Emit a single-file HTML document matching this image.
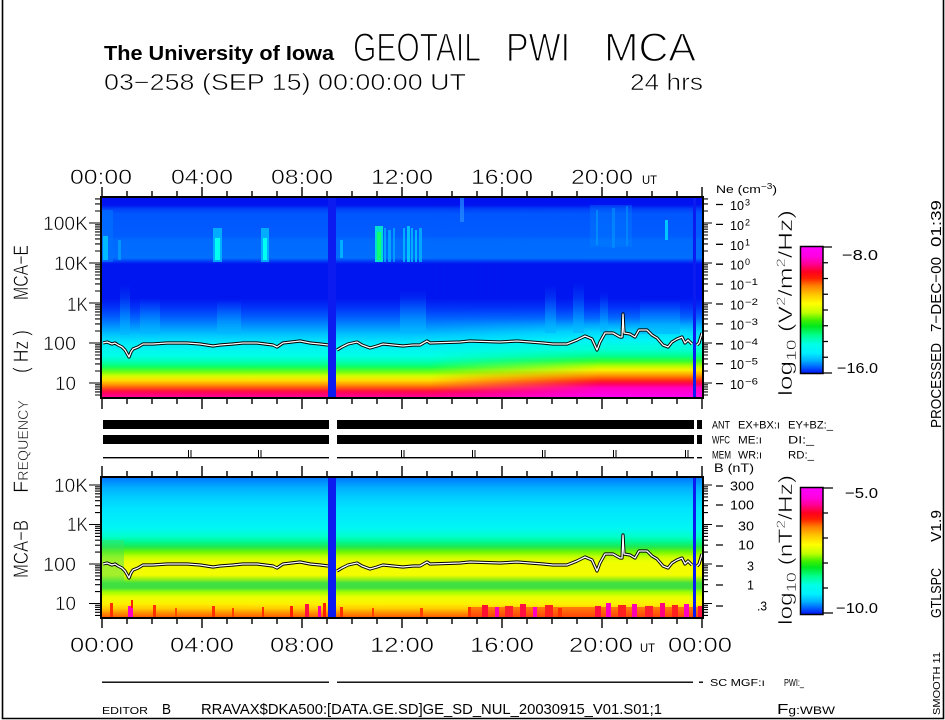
<!DOCTYPE html>
<html><head><meta charset="utf-8"><title>GEOTAIL PWI MCA</title>
<style>html,body{margin:0;padding:0;background:#fff}svg{display:block}</style></head>
<body>
<svg xmlns="http://www.w3.org/2000/svg" width="945" height="720" viewBox="0 0 945 720" font-family="Liberation Sans, sans-serif">
<defs>
<linearGradient id="gTL" gradientUnits="userSpaceOnUse" x1="0" y1="198" x2="0" y2="397">
<stop offset="0" stop-color="#0010f0"/><stop offset=".035" stop-color="#0014f0"/><stop offset=".055" stop-color="#0040f8"/>
<stop offset=".08" stop-color="#0056ff"/><stop offset=".191" stop-color="#005cff"/><stop offset=".211" stop-color="#006aff"/>
<stop offset=".302" stop-color="#006eff"/><stop offset=".322" stop-color="#0030f4"/><stop offset=".332" stop-color="#0016f0"/>
<stop offset=".503" stop-color="#0016f0"/><stop offset=".553" stop-color="#0034f8"/><stop offset=".603" stop-color="#0062ff"/>
<stop offset=".648" stop-color="#0096ff"/><stop offset=".688" stop-color="#00c6ff"/><stop offset=".729" stop-color="#00eafa"/>
<stop offset=".794" stop-color="#00ffe6"/><stop offset=".824" stop-color="#00ffb0"/><stop offset=".849" stop-color="#10ff60"/>
<stop offset=".874" stop-color="#70ff10"/><stop offset=".894" stop-color="#d0ff00"/><stop offset=".915" stop-color="#ffe000"/>
<stop offset=".935" stop-color="#ffa000"/><stop offset=".955" stop-color="#ff5010"/><stop offset=".97" stop-color="#ff1040"/>
<stop offset=".985" stop-color="#ff0070"/><stop offset="1" stop-color="#ff0090"/>
</linearGradient>
<linearGradient id="gTR" gradientUnits="userSpaceOnUse" x1="0" y1="198" x2="0" y2="397">
<stop offset="0" stop-color="#0010f0"/><stop offset=".035" stop-color="#0014f0"/><stop offset=".055" stop-color="#0040f8"/>
<stop offset=".08" stop-color="#0056ff"/><stop offset=".191" stop-color="#005cff"/><stop offset=".211" stop-color="#006aff"/>
<stop offset=".302" stop-color="#006eff"/><stop offset=".322" stop-color="#0030f4"/><stop offset=".332" stop-color="#0016f0"/>
<stop offset=".503" stop-color="#0016f0"/><stop offset=".553" stop-color="#0034f8"/><stop offset=".603" stop-color="#0068ff"/>
<stop offset=".638" stop-color="#00a8ff"/><stop offset=".673" stop-color="#00d8ff"/><stop offset=".714" stop-color="#00f4f8"/>
<stop offset=".764" stop-color="#00ffd0"/><stop offset=".794" stop-color="#00ff90"/><stop offset=".819" stop-color="#30ff30"/>
<stop offset=".844" stop-color="#b0ff00"/><stop offset=".864" stop-color="#f8f000"/><stop offset=".884" stop-color="#ffb000"/>
<stop offset=".905" stop-color="#ff6000"/><stop offset=".92" stop-color="#ff2020"/><stop offset=".935" stop-color="#ff0060"/>
<stop offset=".955" stop-color="#ff00c0"/><stop offset="1" stop-color="#ff00f0"/>
</linearGradient>
<linearGradient id="gB" gradientUnits="userSpaceOnUse" x1="0" y1="478" x2="0" y2="617">
<stop offset="0" stop-color="#0078ff"/><stop offset=".029" stop-color="#0090ff"/><stop offset=".072" stop-color="#00b0ff"/>
<stop offset=".137" stop-color="#00ccff"/><stop offset=".216" stop-color="#00e4ff"/><stop offset=".36" stop-color="#00f6f4"/>
<stop offset=".424" stop-color="#00ffc8"/><stop offset=".46" stop-color="#00f890"/><stop offset=".496" stop-color="#20e850"/>
<stop offset=".532" stop-color="#70f800"/><stop offset=".568" stop-color="#c8ff00"/><stop offset=".604" stop-color="#f0ff00"/>
<stop offset=".698" stop-color="#f4fc00"/><stop offset=".727" stop-color="#a0f010"/><stop offset=".755" stop-color="#40e040"/>
<stop offset=".791" stop-color="#40e040"/><stop offset=".82" stop-color="#a0ff00"/><stop offset=".856" stop-color="#e8ff00"/>
<stop offset=".906" stop-color="#fff000"/><stop offset=".942" stop-color="#ffc800"/><stop offset=".971" stop-color="#ff9000"/>
<stop offset="1" stop-color="#ff6000"/>
</linearGradient>
<linearGradient id="cb" x1="0" y1="0" x2="0" y2="1">
<stop offset="0" stop-color="#ff00ff"/><stop offset=".08" stop-color="#ff00e0"/><stop offset=".14" stop-color="#ff0090"/>
<stop offset=".2" stop-color="#ff0020"/><stop offset=".25" stop-color="#ff2000"/><stop offset=".31" stop-color="#ff8000"/>
<stop offset=".38" stop-color="#ffc800"/><stop offset=".45" stop-color="#ffff00"/><stop offset=".52" stop-color="#c0ff00"/>
<stop offset=".58" stop-color="#40f000"/><stop offset=".63" stop-color="#00e820"/><stop offset=".7" stop-color="#00ff90"/>
<stop offset=".77" stop-color="#00ffe8"/><stop offset=".84" stop-color="#00f0ff"/><stop offset=".9" stop-color="#00b0ff"/>
<stop offset=".96" stop-color="#0050ff"/><stop offset="1" stop-color="#0010f0"/>
</linearGradient>
<linearGradient id="fadeR" gradientUnits="userSpaceOnUse" x1="430" y1="0" x2="600" y2="0">
<stop offset="0" stop-color="#fff" stop-opacity="0"/><stop offset="1" stop-color="#fff" stop-opacity="1"/>
</linearGradient>
<mask id="mR"><rect x="102" y="198" width="600" height="199" fill="url(#fadeR)"/></mask>
<linearGradient id="st" x1="0" y1="0" x2="0" y2="1">
<stop offset="0" stop-color="#00a0ff" stop-opacity="0"/><stop offset="1" stop-color="#00b8ff" stop-opacity=".7"/>
</linearGradient>
<clipPath id="cT"><rect x="102" y="198" width="600" height="199"/></clipPath>
<clipPath id="cB"><rect x="102" y="478" width="600" height="139"/></clipPath>
</defs>

<rect width="945" height="720" fill="#fff"/>
<path d="M2.5 0V718.5H943.5V0" fill="none" stroke="#000" stroke-width="1.6"/>

<!-- Title -->
<text x="104" y="60" font-size="20" font-weight="bold" textLength="230" lengthAdjust="spacingAndGlyphs">The University of Iowa</text>
<g font-size="40" stroke="#fff" stroke-width="1.3">
<text x="353" y="61" textLength="128" lengthAdjust="spacingAndGlyphs">GEOTAIL</text>
<text x="506" y="61" textLength="64" lengthAdjust="spacingAndGlyphs">PWI</text>
<text x="604" y="61" textLength="92" lengthAdjust="spacingAndGlyphs">MCA</text>
</g>
<g font-size="23" stroke="#fff" stroke-width="0.6">
<text x="104" y="90" textLength="362" lengthAdjust="spacingAndGlyphs">03−258 (SEP 15) 00:00:00 UT</text>
<text x="630" y="90" textLength="73" lengthAdjust="spacingAndGlyphs">24 hrs</text>
</g>

<!-- Top time labels -->
<g font-size="21" text-anchor="middle" stroke="#fff" stroke-width="0.5">
<text x="101" y="184" textLength="62" lengthAdjust="spacingAndGlyphs">00:00</text>
<text x="202" y="184" textLength="62" lengthAdjust="spacingAndGlyphs">04:00</text>
<text x="302" y="184" textLength="62" lengthAdjust="spacingAndGlyphs">08:00</text>
<text x="402" y="184" textLength="62" lengthAdjust="spacingAndGlyphs">12:00</text>
<text x="502" y="184" textLength="62" lengthAdjust="spacingAndGlyphs">16:00</text>
<text x="602" y="184" textLength="62" lengthAdjust="spacingAndGlyphs">20:00</text>
</g>
<text x="642" y="184" font-size="12" textLength="15" lengthAdjust="spacingAndGlyphs">UT</text>

<!-- TOP PANEL -->
<g clip-path="url(#cT)">
<rect x="102" y="198" width="600" height="199" fill="url(#gTL)"/>
<rect x="102" y="198" width="600" height="199" fill="url(#gTR)" mask="url(#mR)"/>
<rect x="102" y="210" width="11" height="52" fill="#0070ff" opacity=".7"/>
<rect x="103" y="236" width="5" height="24" fill="#00c8ff" opacity=".85"/>
<rect x="118" y="240" width="3" height="20" fill="#00a0ff" opacity=".8"/>
<rect x="213" y="228" width="9" height="34" fill="#00c0ff" opacity=".8"/>
<rect x="215" y="238" width="5" height="22" fill="#00fff0"/>
<rect x="261" y="228" width="8" height="34" fill="#00c0ff" opacity=".8"/>
<rect x="263" y="238" width="4" height="22" fill="#00fff0"/>
<rect x="340" y="240" width="3" height="18" fill="#00c0ff" opacity=".8"/>
<rect x="375" y="226" width="8" height="36" fill="#00e0d0"/>
<rect x="377" y="232" width="4" height="28" fill="#10ff70"/>
<rect x="384" y="228" width="2" height="34" fill="#00b0ff" opacity=".8"/>
<rect x="388" y="230" width="3" height="32" fill="#00c0ff" opacity=".7"/>
<rect x="393" y="228" width="2" height="34" fill="#00b0ff" opacity=".7"/>
<rect x="403" y="228" width="2" height="34" fill="#00c0ff" opacity=".8"/>
<rect x="407" y="226" width="3" height="36" fill="#00d8ff" opacity=".8"/>
<rect x="411" y="228" width="2" height="34" fill="#00c0ff" opacity=".8"/>
<rect x="415" y="230" width="2" height="32" fill="#00d0ff" opacity=".8"/>
<rect x="419" y="228" width="3" height="34" fill="#00b8ff" opacity=".8"/>
<rect x="460" y="198" width="4" height="24" fill="#2890ff" opacity=".7"/>
<rect x="590" y="205" width="42" height="42" fill="#0088ff" opacity=".3"/>
<rect x="596" y="210" width="2" height="35" fill="#00a0ff" opacity=".6"/>
<rect x="612" y="208" width="3" height="40" fill="#00a0ff" opacity=".5"/>
<rect x="626" y="206" width="2" height="40" fill="#00a0ff" opacity=".5"/>
<rect x="665" y="220" width="3" height="20" fill="#00d8ff" opacity=".85"/>
<rect x="120" y="285" width="10" height="50" fill="url(#st)"/>
<rect x="140" y="298" width="20" height="36" fill="url(#st)"/>
<rect x="217" y="300" width="24" height="34" fill="url(#st)"/>
<rect x="400" y="290" width="26" height="44" fill="url(#st)"/>
<rect x="545" y="285" width="11" height="48" fill="url(#st)"/>
<rect x="573" y="283" width="11" height="50" fill="url(#st)"/>
<rect x="640" y="300" width="40" height="34" fill="url(#st)"/>
<rect x="600" y="292" width="8" height="40" fill="url(#st)"/>
<rect x="328" y="198" width="8" height="199" fill="#0c1cf0"/>
<rect x="693" y="198" width="3" height="199" fill="#0c1cf0"/>
<g fill="none" stroke-linejoin="round">
<g stroke="#000" stroke-width="3.2">
<polyline points="103,343 107,342 112,344 115,343 118,345 122,347 125,350 129,357 131,352 133,349 138,347 143,344 153,344 167,343 177,343 187,343 200,344 213,346 220,345 233,344 243,343 257,343 273,345 277,347 283,343 300,341 310,343 320,344 328,345"/>
<polyline points="337,350 342,347 348,344 357,342 362,345 370,348 377,346 383,344 393,345 403,346 413,345 420,345 427,341 430,343 460,342 470,341 500,342 517,341 543,343 553,344 567,344 577,340 585,336 592,339 597,350 600,342 605,333 613,333 620,337 622,337 623,314 624,333 630,334 635,337 639,330 647,330 652,335 657,338 663,345 668,347 672,342 677,339 682,337 685,343 688,340 692,344"/>
<polyline points="697,345 699,343 702,333"/>
</g>
<g stroke="#fff" stroke-width="1.3">
<polyline points="103,343 107,342 112,344 115,343 118,345 122,347 125,350 129,357 131,352 133,349 138,347 143,344 153,344 167,343 177,343 187,343 200,344 213,346 220,345 233,344 243,343 257,343 273,345 277,347 283,343 300,341 310,343 320,344 328,345"/>
<polyline points="337,350 342,347 348,344 357,342 362,345 370,348 377,346 383,344 393,345 403,346 413,345 420,345 427,341 430,343 460,342 470,341 500,342 517,341 543,343 553,344 567,344 577,340 585,336 592,339 597,350 600,342 605,333 613,333 620,337 622,337 623,314 624,333 630,334 635,337 639,330 647,330 652,335 657,338 663,345 668,347 672,342 677,339 682,337 685,343 688,340 692,344"/>
<polyline points="697,345 699,343 702,333"/>
</g>
</g>
</g>
<rect x="101" y="197" width="602" height="201" fill="none" stroke="#000" stroke-width="2"/>

<!-- BOTTOM PANEL -->
<g clip-path="url(#cB)">
<rect x="102" y="478" width="600" height="139" fill="url(#gB)"/>
<rect x="102" y="540" width="22" height="42" fill="#40e060" opacity=".45"/>
<rect x="470" y="607" width="232" height="10" fill="#ff3010" opacity=".55"/>
<g>
<rect x="110" y="603" width="3" height="14" fill="#ff3000"/>
<rect x="128" y="606" width="5" height="11" fill="#ff00c0"/>
<rect x="131" y="600" width="2" height="8" fill="#ff2000"/>
<rect x="153" y="605" width="3" height="12" fill="#ff3000"/>
<rect x="175" y="608" width="2" height="9" fill="#ff5000"/>
<rect x="212" y="606" width="3" height="11" fill="#ff3000"/>
<rect x="232" y="608" width="2" height="9" fill="#ff4000"/>
<rect x="262" y="607" width="2" height="10" fill="#ff3000"/>
<rect x="290" y="606" width="3" height="11" fill="#ff2000"/>
<rect x="305" y="604" width="4" height="13" fill="#ff1040"/>
<rect x="318" y="606" width="3" height="11" fill="#ff00a0"/>
<rect x="323" y="603" width="3" height="14" fill="#ff2000"/>
<rect x="340" y="607" width="3" height="10" fill="#ff3000"/>
<rect x="372" y="608" width="2" height="9" fill="#ff4000"/>
<rect x="420" y="608" width="3" height="9" fill="#ff4000"/>
<rect x="468" y="607" width="3" height="10" fill="#ff3000"/>
<rect x="482" y="605" width="6" height="12" fill="#ff1030"/>
<rect x="495" y="607" width="4" height="10" fill="#ff00b0"/>
<rect x="505" y="606" width="8" height="11" fill="#ff2030"/>
<rect x="520" y="604" width="6" height="13" fill="#ff1040"/>
<rect x="533" y="607" width="4" height="10" fill="#ff00c0"/>
<rect x="545" y="605" width="8" height="12" fill="#ff2020"/>
<rect x="558" y="608" width="4" height="9" fill="#ff3000"/>
<rect x="595" y="606" width="6" height="11" fill="#ff1040"/>
<rect x="606" y="603" width="5" height="14" fill="#ff00c0"/>
<rect x="618" y="605" width="8" height="12" fill="#ff2020"/>
<rect x="632" y="604" width="5" height="13" fill="#ff00b0"/>
<rect x="645" y="606" width="8" height="11" fill="#ff2030"/>
<rect x="660" y="603" width="5" height="14" fill="#ff0080"/>
<rect x="672" y="605" width="6" height="12" fill="#ff2020"/>
<rect x="684" y="604" width="5" height="13" fill="#ff00c0"/>
<rect x="698" y="606" width="4" height="11" fill="#ff1040"/>
</g>
<rect x="328" y="478" width="8" height="139" fill="#0c1cf0"/>
<rect x="693" y="478" width="3" height="139" fill="#0c1cf0"/>
<g fill="none" stroke-linejoin="round" transform="translate(0,221)">
<g stroke="#000" stroke-width="3.2">
<polyline points="103,343 107,342 112,344 115,343 118,345 122,347 125,350 129,357 131,352 133,349 138,347 143,344 153,344 167,343 177,343 187,343 200,344 213,346 220,345 233,344 243,343 257,343 273,345 277,347 283,343 300,341 310,343 320,344 328,345"/>
<polyline points="337,350 342,347 348,344 357,342 362,345 370,348 377,346 383,344 393,345 403,346 413,345 420,345 427,341 430,343 460,342 470,341 500,342 517,341 543,343 553,344 567,344 577,340 585,336 592,339 597,350 600,342 605,333 613,333 620,337 622,337 623,314 624,333 630,334 635,337 639,330 647,330 652,335 657,338 663,345 668,347 672,342 677,339 682,337 685,343 688,340 692,344"/>
<polyline points="697,345 699,343 702,333"/>
</g>
<g stroke="#fff" stroke-width="1.3">
<polyline points="103,343 107,342 112,344 115,343 118,345 122,347 125,350 129,357 131,352 133,349 138,347 143,344 153,344 167,343 177,343 187,343 200,344 213,346 220,345 233,344 243,343 257,343 273,345 277,347 283,343 300,341 310,343 320,344 328,345"/>
<polyline points="337,350 342,347 348,344 357,342 362,345 370,348 377,346 383,344 393,345 403,346 413,345 420,345 427,341 430,343 460,342 470,341 500,342 517,341 543,343 553,344 567,344 577,340 585,336 592,339 597,350 600,342 605,333 613,333 620,337 622,337 623,314 624,333 630,334 635,337 639,330 647,330 652,335 657,338 663,345 668,347 672,342 677,339 682,337 685,343 688,340 692,344"/>
<polyline points="697,345 699,343 702,333"/>
</g>
</g>
</g>
<rect x="101" y="477" width="602" height="141" fill="none" stroke="#000" stroke-width="2"/>

<!-- time ticks -->
<g stroke="#000" stroke-width="1.4" fill="none">
<path d="M102 187V197M202 187V197M302 187V197M402 187V197M502 187V197M602 187V197M702 187V197"/>
<path d="M127 191V197M152 191V197M177 191V197M227 191V197M252 191V197M277 191V197M327 191V197M352 191V197M377 191V197M427 191V197M452 191V197M477 191V197M527 191V197M552 191V197M577 191V197M627 191V197M652 191V197M677 191V197"/>
<path d="M102 398V409M202 398V409M302 398V409M402 398V409M502 398V409M602 398V409M702 398V409"/>
<path d="M127 398V404M152 398V404M177 398V404M227 398V404M252 398V404M277 398V404M327 398V404M352 398V404M377 398V404M427 398V404M452 398V404M477 398V404M527 398V404M552 398V404M577 398V404M627 398V404M652 398V404M677 398V404"/>
<path d="M102 466V477M202 466V477M302 466V477M402 466V477M502 466V477M602 466V477M702 466V477"/>
<path d="M127 471V477M152 471V477M177 471V477M227 471V477M252 471V477M277 471V477M327 471V477M352 471V477M377 471V477M427 471V477M452 471V477M477 471V477M527 471V477M552 471V477M577 471V477M627 471V477M652 471V477M677 471V477"/>
<path d="M102 618V628M202 618V628M302 618V628M402 618V628M502 618V628M602 618V628M702 618V628"/>
<path d="M127 618V624M152 618V624M177 618V624M227 618V624M252 618V624M277 618V624M327 618V624M352 618V624M377 618V624M427 618V624M452 618V624M477 618V624M527 618V624M552 618V624M577 618V624M627 618V624M652 618V624M677 618V624"/>
</g>
<!-- frequency ticks -->
<g stroke="#000" stroke-width="1.1" fill="none">
<path d="M89 383H101M89 343H101M89 303H101M89 263H101M89 223H101M703 383H712M703 343H712M703 303H712M703 263H712M703 223H712"/>
<path d="M95 395H101M95 391.9H101M95 389.2H101M95 386.9H101M95 384.8H101M95 371H101M95 363.9H101M95 358.9H101M95 355H101M95 351.9H101M95 349.2H101M95 346.9H101M95 344.8H101M95 331H101M95 323.9H101M95 318.9H101M95 315H101M95 311.9H101M95 309.2H101M95 306.9H101M95 304.8H101M95 291H101M95 283.9H101M95 278.9H101M95 275H101M95 271.9H101M95 269.2H101M95 266.9H101M95 264.8H101M95 251H101M95 243.9H101M95 238.9H101M95 235H101M95 231.9H101M95 229.2H101M95 226.9H101M95 224.8H101M95 211H101M95 203.9H101M95 198.9H101"/>
<path d="M703 395H708M703 391.9H708M703 389.2H708M703 386.9H708M703 384.8H708M703 371H708M703 363.9H708M703 358.9H708M703 355H708M703 351.9H708M703 349.2H708M703 346.9H708M703 344.8H708M703 331H708M703 323.9H708M703 318.9H708M703 315H708M703 311.9H708M703 309.2H708M703 306.9H708M703 304.8H708M703 291H708M703 283.9H708M703 278.9H708M703 275H708M703 271.9H708M703 269.2H708M703 266.9H708M703 264.8H708M703 251H708M703 243.9H708M703 238.9H708M703 235H708M703 231.9H708M703 229.2H708M703 226.9H708M703 224.8H708M703 211H708M703 203.9H708M703 198.9H708"/>
<path d="M89 603.5H101M89 564H101M89 524.5H101M89 485H101M703 603.5H712M703 564H712M703 524.5H712M703 485H712"/>
<path d="M95 615.4H101M95 612.3H101M95 609.6H101M95 607.3H101M95 605.3H101M95 591.6H101M95 584.7H101M95 579.7H101M95 575.9H101M95 572.8H101M95 570.1H101M95 567.8H101M95 565.8H101M95 552.1H101M95 545.2H101M95 540.2H101M95 536.4H101M95 533.3H101M95 530.6H101M95 528.3H101M95 526.3H101M95 512.6H101M95 505.7H101M95 500.7H101M95 496.9H101M95 493.8H101M95 491.1H101M95 488.8H101M95 486.8H101"/>
<path d="M703 615.4H708M703 612.3H708M703 609.6H708M703 607.3H708M703 605.3H708M703 591.6H708M703 584.7H708M703 579.7H708M703 575.9H708M703 572.8H708M703 570.1H708M703 567.8H708M703 565.8H708M703 552.1H708M703 545.2H708M703 540.2H708M703 536.4H708M703 533.3H708M703 530.6H708M703 528.3H708M703 526.3H708M703 512.6H708M703 505.7H708M703 500.7H708M703 496.9H708M703 493.8H708M703 491.1H708M703 488.8H708M703 486.8H708"/>
</g>

<!-- left freq labels -->
<g font-size="19.5" stroke="#fff" stroke-width="0.5">
<text x="43" y="230" textLength="45" lengthAdjust="spacingAndGlyphs">100K</text>
<text x="54" y="270" textLength="34" lengthAdjust="spacingAndGlyphs">10K</text>
<text x="67" y="311" textLength="21" lengthAdjust="spacingAndGlyphs">1K</text>
<text x="43" y="350" textLength="33" lengthAdjust="spacingAndGlyphs">100</text>
<text x="55" y="390" textLength="21" lengthAdjust="spacingAndGlyphs">10</text>
<text x="54" y="492" textLength="34" lengthAdjust="spacingAndGlyphs">10K</text>
<text x="67" y="531" textLength="21" lengthAdjust="spacingAndGlyphs">1K</text>
<text x="43" y="571" textLength="33" lengthAdjust="spacingAndGlyphs">100</text>
<text x="55" y="610" textLength="21" lengthAdjust="spacingAndGlyphs">10</text>
</g>
<g stroke="#fff" stroke-width="0.5">
<text transform="translate(28,300) rotate(-90)" font-size="21" textLength="55" lengthAdjust="spacingAndGlyphs">MCA−E</text>
<text transform="translate(28,373) rotate(-90)" font-size="21" textLength="43" lengthAdjust="spacingAndGlyphs">( Hz )</text>
<text transform="translate(28,493) rotate(-90)" textLength="93" lengthAdjust="spacingAndGlyphs"><tspan font-size="21">F</tspan><tspan font-size="15">REQUENCY</tspan></text>
<text transform="translate(28,578) rotate(-90)" font-size="21" textLength="58" lengthAdjust="spacingAndGlyphs">MCA−B</text>
</g>

<!-- Ne axis -->
<text x="716" y="193" font-size="11" textLength="61" lengthAdjust="spacingAndGlyphs">Ne (cm<tspan dy="-4" font-size="8">−3</tspan><tspan dy="4">)</tspan></text>
<g stroke="#000" stroke-width="1.3">
<path d="M716 204.5H723M716 224.4H723M716 244.3H723M716 264.2H723M716 284.1H723M716 304H723M716 323.9H723M716 343.8H723M716 363.7H723M716 383.6H723"/>
<path d="M716 486H723M716 505H723M716 526H723M716 545H723M716 566H723M716 585H723M716 606H723"/>
</g>
<g font-size="13">
<text x="730" y="210" textLength="14" lengthAdjust="spacingAndGlyphs">10</text>
<text x="730" y="229.9" textLength="14" lengthAdjust="spacingAndGlyphs">10</text>
<text x="730" y="249.8" textLength="14" lengthAdjust="spacingAndGlyphs">10</text>
<text x="730" y="269.7" textLength="14" lengthAdjust="spacingAndGlyphs">10</text>
<text x="730" y="289.6" textLength="14" lengthAdjust="spacingAndGlyphs">10</text>
<text x="730" y="309.5" textLength="14" lengthAdjust="spacingAndGlyphs">10</text>
<text x="730" y="329.4" textLength="14" lengthAdjust="spacingAndGlyphs">10</text>
<text x="730" y="349.3" textLength="14" lengthAdjust="spacingAndGlyphs">10</text>
<text x="730" y="369.2" textLength="14" lengthAdjust="spacingAndGlyphs">10</text>
<text x="730" y="389.1" textLength="14" lengthAdjust="spacingAndGlyphs">10</text>
</g>
<g font-size="9">
<text x="745" y="205.5">3</text>
<text x="745" y="225.4">2</text>
<text x="745" y="245.3">1</text>
<text x="745" y="265.2">0</text>
<text x="745" y="285.1" textLength="13" lengthAdjust="spacingAndGlyphs">−1</text>
<text x="745" y="305" textLength="13" lengthAdjust="spacingAndGlyphs">−2</text>
<text x="745" y="324.9" textLength="13" lengthAdjust="spacingAndGlyphs">−3</text>
<text x="745" y="344.8" textLength="13" lengthAdjust="spacingAndGlyphs">−4</text>
<text x="745" y="364.7" textLength="13" lengthAdjust="spacingAndGlyphs">−5</text>
<text x="745" y="384.6" textLength="13" lengthAdjust="spacingAndGlyphs">−6</text>
</g>

<!-- B axis -->
<text x="714" y="472" font-size="12" textLength="40" lengthAdjust="spacingAndGlyphs">B (nT)</text>
<g font-size="12.5" text-anchor="end">
<text x="754" y="490.5" textLength="24" lengthAdjust="spacingAndGlyphs">300</text>
<text x="754" y="509.5" textLength="24" lengthAdjust="spacingAndGlyphs">100</text>
<text x="754" y="530.5" textLength="16" lengthAdjust="spacingAndGlyphs">30</text>
<text x="754" y="549.5" textLength="16" lengthAdjust="spacingAndGlyphs">10</text>
<text x="754" y="570.5">3</text>
<text x="754" y="589.5">1</text>
</g>
<text x="757" y="610.5" font-size="12.5" textLength="10" lengthAdjust="spacingAndGlyphs">.3</text>

<!-- middle status bars -->
<g fill="#000">
<rect x="103" y="420" width="226" height="9"/><rect x="337" y="420" width="357" height="9"/><rect x="697" y="420" width="5" height="9"/>
<rect x="103" y="435" width="226" height="9"/><rect x="337" y="435" width="357" height="9"/><rect x="697" y="435" width="5" height="9"/>
<rect x="103" y="457" width="226" height="1.4"/><rect x="337" y="457" width="357" height="1.4"/><rect x="697" y="457" width="5" height="1.4"/>
<rect x="188" y="450" width="1" height="8"/><rect x="190.5" y="450" width="1" height="8"/>
<rect x="258" y="450" width="1" height="8"/><rect x="260.5" y="450" width="1" height="8"/>
<rect x="401" y="450" width="1" height="8"/><rect x="403.5" y="450" width="1" height="8"/>
<rect x="472" y="450" width="1" height="8"/><rect x="474.5" y="450" width="1" height="8"/>
<rect x="542" y="450" width="1" height="8"/><rect x="544.5" y="450" width="1" height="8"/>
<rect x="613" y="450" width="1" height="8"/><rect x="615.5" y="450" width="1" height="8"/>
<rect x="685" y="450" width="1" height="8"/><rect x="687.5" y="450" width="1" height="8"/>
<rect x="102" y="681.5" width="227" height="1.4"/><rect x="337" y="681.5" width="356" height="1.4"/><rect x="699" y="681.5" width="4" height="1.4"/>
</g>
<g font-size="11">
<text x="712" y="428.5" textLength="18" lengthAdjust="spacingAndGlyphs">ANT</text>
<text x="738" y="428.5" textLength="42" lengthAdjust="spacingAndGlyphs">EX+BX:ı</text>
<text x="788" y="428.5" textLength="45" lengthAdjust="spacingAndGlyphs">EY+BZ:_</text>
<text x="712" y="443.5" textLength="18" lengthAdjust="spacingAndGlyphs">WFC</text>
<text x="738" y="443.5" textLength="24" lengthAdjust="spacingAndGlyphs">ME:ı</text>
<text x="788" y="443.5" textLength="26" lengthAdjust="spacingAndGlyphs">DI:_</text>
<text x="712" y="458.5" textLength="19" lengthAdjust="spacingAndGlyphs">MEM</text>
<text x="738" y="458.5" textLength="24" lengthAdjust="spacingAndGlyphs">WR:ı</text>
<text x="788" y="458.5" textLength="26" lengthAdjust="spacingAndGlyphs">RD:_</text>
</g>

<!-- colorbars -->
<rect x="800.5" y="246.5" width="22.5" height="127" fill="url(#cb)" stroke="#000" stroke-width="1.5"/>
<rect x="800.5" y="487.5" width="22.5" height="127" fill="url(#cb)" stroke="#000" stroke-width="1.5"/>
<g stroke="#000" stroke-width="1.3" fill="none">
<path d="M823 247H832M823 262.75H828M823 278.5H828M823 294.25H828M823 310H828M823 325.75H828M823 341.5H828M823 357.25H828M823 373H832"/>
<path d="M823 488H833M823 513H828M823 538H828M823 563H828M823 588H828M823 613H833"/>
</g>
<g font-size="14.5">
<text x="842" y="260" textLength="36" lengthAdjust="spacingAndGlyphs">−8.0</text>
<text x="837" y="373" textLength="41" lengthAdjust="spacingAndGlyphs">−16.0</text>
<text x="845" y="498" textLength="33" lengthAdjust="spacingAndGlyphs">−5.0</text>
<text x="836" y="613" textLength="42" lengthAdjust="spacingAndGlyphs">−10.0</text>
</g>
<g stroke="#fff" stroke-width="0.5">
<text transform="translate(792,396) rotate(-90)" font-size="19" textLength="186" lengthAdjust="spacingAndGlyphs">log<tspan dy="4" font-size="14">10</tspan><tspan dy="-4"> (V</tspan><tspan dy="-7" font-size="12">2</tspan><tspan dy="7">/m</tspan><tspan dy="-7" font-size="12">2</tspan><tspan dy="7">/Hz)</tspan></text>
<text transform="translate(792,625) rotate(-90)" font-size="19" textLength="150" lengthAdjust="spacingAndGlyphs">log<tspan dy="4" font-size="14">10</tspan><tspan dy="-4"> (nT</tspan><tspan dy="-7" font-size="12">2</tspan><tspan dy="7">/Hz)</tspan></text>
</g>

<!-- right vertical texts -->
<g font-size="14.5">
<text transform="translate(941,428) rotate(-90)" textLength="85" lengthAdjust="spacingAndGlyphs">PROCESSED</text>
<text transform="translate(941,332) rotate(-90)" textLength="75" lengthAdjust="spacingAndGlyphs">7−DEC−00</text>
<text transform="translate(941,247) rotate(-90)" textLength="47" lengthAdjust="spacingAndGlyphs">01:39</text>
<text transform="translate(941,618) rotate(-90)" textLength="50" lengthAdjust="spacingAndGlyphs">GTLSPC</text>
<text transform="translate(941,542) rotate(-90)" textLength="32" lengthAdjust="spacingAndGlyphs">V1.9</text>
</g>
<text transform="translate(940,715) rotate(-90)" font-size="10" textLength="63" lengthAdjust="spacingAndGlyphs">SMOOTH 11</text>

<!-- bottom time labels -->
<g font-size="21" text-anchor="middle" stroke="#fff" stroke-width="0.5">
<text x="102" y="652" textLength="64" lengthAdjust="spacingAndGlyphs">00:00</text>
<text x="202" y="652" textLength="64" lengthAdjust="spacingAndGlyphs">04:00</text>
<text x="302" y="652" textLength="64" lengthAdjust="spacingAndGlyphs">08:00</text>
<text x="402" y="652" textLength="64" lengthAdjust="spacingAndGlyphs">12:00</text>
<text x="502" y="652" textLength="64" lengthAdjust="spacingAndGlyphs">16:00</text>
<text x="601" y="652" textLength="64" lengthAdjust="spacingAndGlyphs">20:00</text>
<text x="700" y="652" textLength="64" lengthAdjust="spacingAndGlyphs">00:00</text>
</g>
<text x="640" y="652" font-size="12" textLength="15" lengthAdjust="spacingAndGlyphs">UT</text>

<!-- bottom info -->
<text x="710" y="686" font-size="10" textLength="55" lengthAdjust="spacingAndGlyphs">SC MGF:ı</text>
<text x="784" y="686" font-size="10" textLength="20" lengthAdjust="spacingAndGlyphs">PWI:_</text>
<text x="102" y="714" font-size="10" textLength="46" lengthAdjust="spacingAndGlyphs">EDITOR</text>
<text x="162" y="714" font-size="15" textLength="9" lengthAdjust="spacingAndGlyphs">B</text>
<text x="201" y="714" font-size="14.5" textLength="461" lengthAdjust="spacingAndGlyphs">RRAVAX$DKA500:[DATA.GE.SD]GE_SD_NUL_20030915_V01.S01;1</text>
<text x="777" y="714" textLength="58" lengthAdjust="spacingAndGlyphs"><tspan font-size="15">F</tspan><tspan font-size="11">g:WBW</tspan></text>
</svg>
</body></html>
